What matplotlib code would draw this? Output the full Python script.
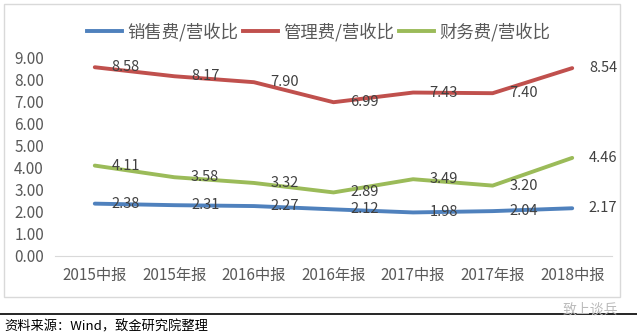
import matplotlib.pyplot as plt
from matplotlib.patches import Rectangle
from matplotlib.lines import Line2D

plt.rcParams['font.family'] = ['Noto Sans CJK SC', 'DejaVu Sans']

periods = ["2015中报", "2015年报", "2016中报", "2016年报", "2017中报", "2017年报", "2018中报"]
sales = [2.38, 2.31, 2.27, 2.12, 1.98, 2.04, 2.17]
admin = [8.58, 8.17, 7.90, 6.99, 7.43, 7.40, 8.54]
finance = [4.11, 3.58, 3.32, 2.89, 3.49, 3.20, 4.46]
names = ["销售费/营收比", "管理费/营收比", "财务费/营收比"]
colors = ["#4F81BD", "#C0504D", "#9BBB59"]

fig = plt.figure(figsize=(6.37, 3.34), dpi=100)
ax = fig.add_axes([55/637, 78/334, 557/637, 198/334])

x = range(len(periods))
for vals, name, c in zip([sales, admin, finance], names, colors):
    ax.plot(x, vals, color=c, lw=2.8, label=name, solid_capstyle='round', zorder=3)
    for i, v in zip(x, vals):
        ax.annotate(f"{v:.2f}", (i, v), xytext=(12, 0), textcoords='offset points',
                    va='center', ha='left', fontsize=10.5, color='#404040', zorder=4)

ax.set_xlim(-0.5, len(periods) - 0.5)
ax.set_ylim(0, 9)
ax.set_yticks(range(0, 10))
ax.set_yticklabels([f"{v:.2f}" for v in range(0, 10)])
ax.set_xticks(list(x))
ax.set_xticklabels(periods)
ax.tick_params(length=0, labelsize=11, colors='#595959')
ax.tick_params(axis='x', pad=8)
ax.tick_params(axis='y', pad=8)
for s in ['top', 'right', 'left']:
    ax.spines[s].set_visible(False)
ax.spines['bottom'].set_color('#D9D9D9')

handles = [Line2D([], [], color=c, lw=2.8) for c in colors]
fig.legend(handles, names, loc='center', bbox_to_anchor=(0.5, 1 - 32/334), ncol=3,
           frameon=False, fontsize=12.5, handlelength=2.0, handletextpad=0.3,
           columnspacing=0.3, labelcolor='#595959')

fig.patches.append(Rectangle((4/637, 37/334), 616/637, 293/334, transform=fig.transFigure,
                             fill=False, edgecolor='#D9D9D9', lw=1))
fig.add_artist(Line2D([0, 1], [20/334, 20/334], color='black', lw=1.2, transform=fig.transFigure))
fig.text(590/637, 24/334, "致上谈兵", fontsize=10, color='#BBBBBB', ha='center', va='center')
fig.text(4/637, 7/334, "资料来源：Wind，致金研究院整理", fontsize=9.5, color='black', ha='left', va='center')

fig.savefig("out.png", dpi=100)
